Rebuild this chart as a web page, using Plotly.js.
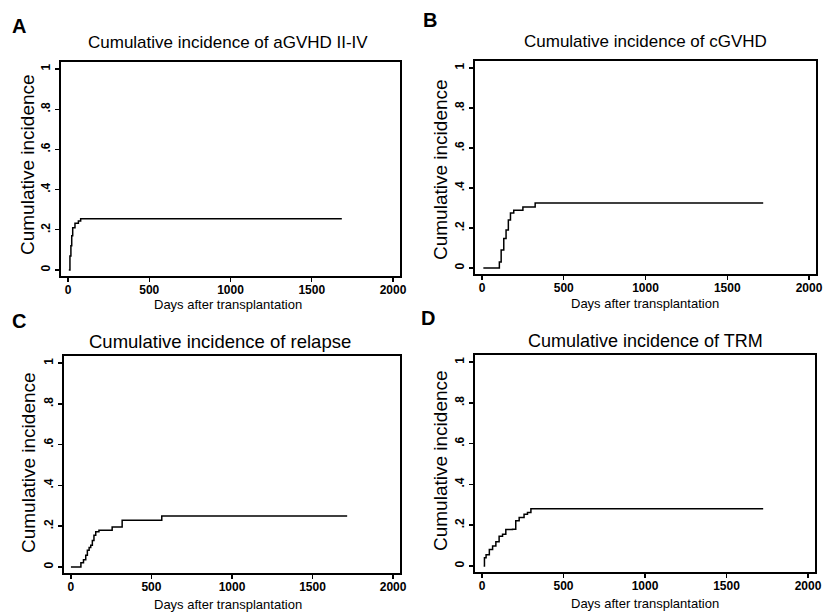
<!DOCTYPE html>
<html>
<head>
<meta charset="utf-8">
<script src="https://cdn.plot.ly/plotly-3.0.1.min.js"></script>
<style>html,body{margin:0;padding:0;background:#fff;}#chart{width:824px;height:612px;}</style>
</head>
<body>
<div id="chart"></div>
<script>
// ---- Data ----
const panelLetters = ["A", "B", "C", "D"];
const panelTitles = [
  "Cumulative incidence of aGVHD II-IV",
  "Cumulative incidence of cGVHD",
  "Cumulative incidence of relapse",
  "Cumulative incidence of TRM"
];
const xAxisTitle = "Days after transplantation";
const yAxisTitle = "Cumulative incidence";
const xTickVals = [0, 500, 1000, 1500, 2000];
const xTickText = ["0", "500", "1000", "1500", "2000"];
const yTickVals = [0, 0.2, 0.4, 0.6, 0.8, 1];
const yTickText = ["0", ".2", ".4", ".6", ".8", "1"];

const aDays = [5, 12, 18, 23, 29, 43, 64, 78, 1685];
const aInc  = [0, 0.07, 0.12, 0.17, 0.21, 0.233, 0.244, 0.255, 0.255];

const bDays = [8, 96, 106, 117, 133, 147, 161, 174, 194, 250, 325, 1720];
const bInc  = [0, 0, 0.03, 0.09, 0.147, 0.19, 0.24, 0.275, 0.289, 0.305, 0.325, 0.325];

const cDays = [0, 51, 62, 78, 92, 102, 113, 123, 133, 143, 154, 174, 256, 318, 564, 1715];
const cInc  = [0, 0, 0.02, 0.035, 0.057, 0.082, 0.095, 0.106, 0.13, 0.155, 0.172, 0.18, 0.196, 0.229, 0.25, 0.25];

const dDays = [10, 15, 25, 45, 65, 85, 105, 126, 146, 187, 207, 228, 258, 279, 300, 1725];
const dInc  = [0, 0.04, 0.055, 0.08, 0.097, 0.118, 0.145, 0.155, 0.178, 0.18, 0.222, 0.238, 0.254, 0.262, 0.28, 0.28];

const seriesDays = [aDays, bDays, cDays, dDays];
const seriesInc = [aInc, bInc, cInc, dInc];

// ---- Layout helpers ----
const W = 824, H = 612;
const px = v => v / W;
const py = v => 1 - v / H;

// plot boxes in pixels [left, right, top, bottom]
const boxes = [
  [61, 400, 62, 276],
  [475, 816, 61, 274],
  [64, 400, 356, 573],
  [475, 815, 355, 572]
];
const titlePos = [[228, 43, 17], [645, 42, 17], [220, 341, 18.5], [645, 341, 18]];
const letterPos = [[19, 26], [430, 20], [19, 321], [428, 318]];
const yTitlePos = [[28, 165], [440, 170], [28, 463], [440, 461]];
const xTitlePos = [[228, 304], [645, 303], [228, 604], [645, 603]];

const FONT = "Liberation Sans, Arial, Helvetica, sans-serif";
const INK = "#000000";
const bold = s => "<b>" + s + "</b>";

const traces = seriesDays.map((d, i) => ({
  x: d, y: seriesInc[i], type: "scatter", mode: "lines",
  line: {shape: "hv", color: INK, width: 1.5},
  xaxis: i === 0 ? "x" : "x" + (i + 1),
  yaxis: i === 0 ? "y" : "y" + (i + 1),
  hoverinfo: "skip"
}));

const layout = {
  width: W, height: H,
  margin: {l: 0, r: 0, t: 0, b: 0},
  paper_bgcolor: "#fff", plot_bgcolor: "#fff",
  showlegend: false,
  font: {family: FONT, color: INK},
  annotations: []
};

boxes.forEach((b, i) => {
  const sfx = i === 0 ? "" : String(i + 1);
  layout["xaxis" + sfx] = {
    domain: [px(b[0]), px(b[1])],
    anchor: "y" + sfx,
    range: [-43, 2043],
    tickvals: xTickVals, ticktext: xTickText.map(bold),
    ticks: "outside", ticklen: 4, tickwidth: 1.3, tickcolor: INK,
    ticklabelstandoff: -2,
    showline: true, mirror: true, linecolor: INK, linewidth: 1.8,
    showgrid: false, zeroline: false,
    tickfont: {family: FONT, size: 12, color: INK},
    fixedrange: true
  };
  layout["yaxis" + sfx] = {
    domain: [py(b[3]), py(b[2])],
    anchor: "x" + sfx,
    range: [-0.03, 1.035],
    tickvals: yTickVals, ticktext: yTickText.map(bold),
    tickangle: -90,
    ticks: "outside", ticklen: 4, tickwidth: 1.3, tickcolor: INK,
    showline: true, mirror: true, linecolor: INK, linewidth: 1.8,
    showgrid: false, zeroline: false,
    tickfont: {family: FONT, size: 12, color: INK},
    fixedrange: true
  };
  layout.annotations.push({
    text: panelTitles[i], xref: "paper", yref: "paper",
    x: px(titlePos[i][0]), y: py(titlePos[i][1]),
    xanchor: "center", yanchor: "middle", showarrow: false,
    font: {family: FONT, size: titlePos[i][2], color: INK}
  });
  layout.annotations.push({
    text: bold(panelLetters[i]), xref: "paper", yref: "paper",
    x: px(letterPos[i][0]), y: py(letterPos[i][1]),
    xanchor: "center", yanchor: "middle", showarrow: false,
    font: {family: FONT, size: 20, color: INK}
  });
  layout.annotations.push({
    text: yAxisTitle, xref: "paper", yref: "paper",
    x: px(yTitlePos[i][0]), y: py(yTitlePos[i][1]),
    xanchor: "center", yanchor: "middle", showarrow: false, textangle: -90,
    font: {family: FONT, size: 19, color: INK}
  });
  layout.annotations.push({
    text: xAxisTitle, xref: "paper", yref: "paper",
    x: px(xTitlePos[i][0]), y: py(xTitlePos[i][1]),
    xanchor: "center", yanchor: "middle", showarrow: false,
    font: {family: FONT, size: 13, color: INK}
  });
});

Plotly.newPlot("chart", traces, layout, {displayModeBar: false, staticPlot: true});
</script>
</body>
</html>
